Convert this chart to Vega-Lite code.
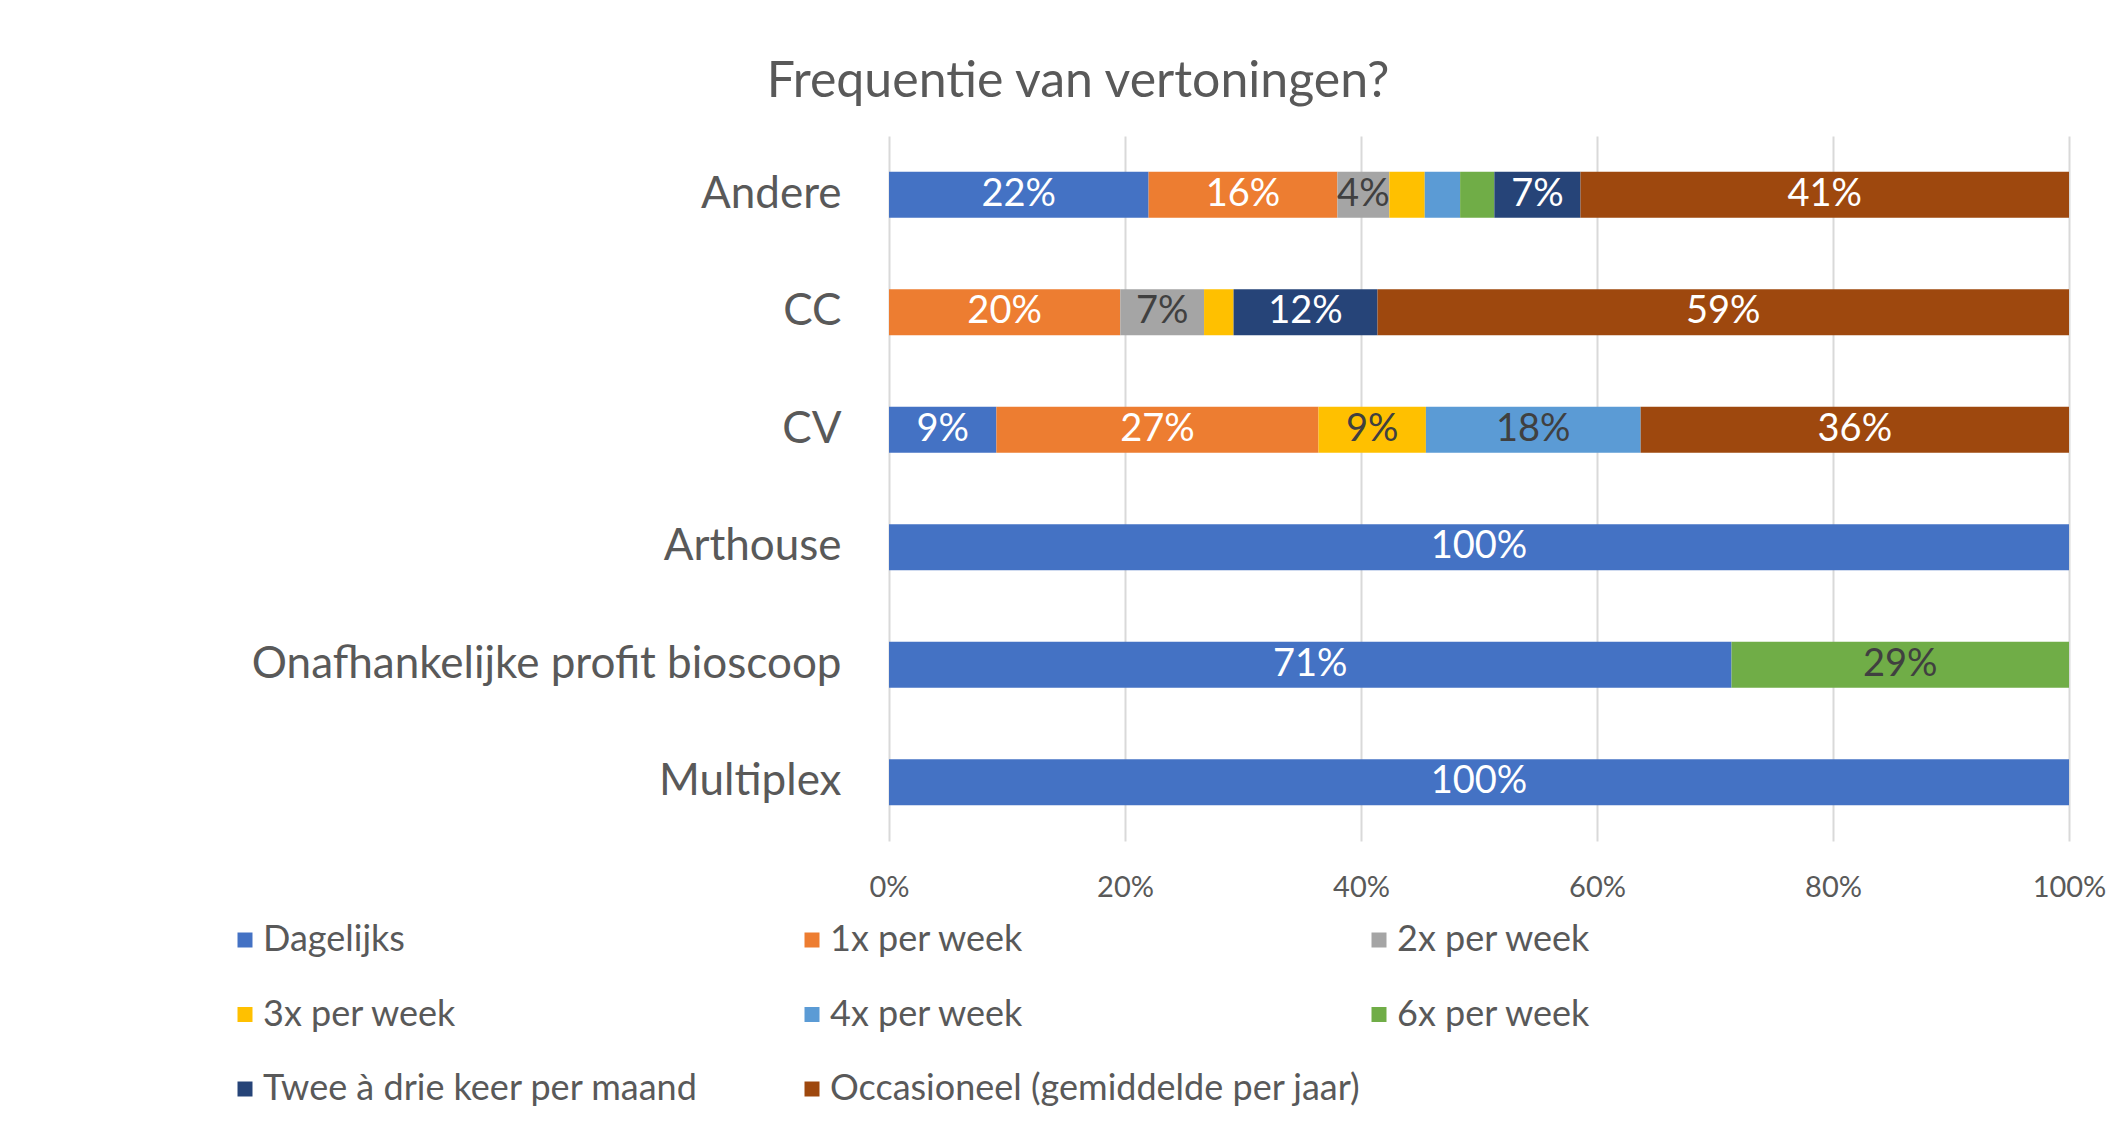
{
  "$schema": "https://vega.github.io/schema/vega-lite/v6.json",
  "width": 1180,
  "height": 705,
  "autosize": {"type": "none"},
  "padding": {"left": 889, "top": 136, "right": 57, "bottom": 303},
  "background": "white",
  "title": {
    "text": "Frequentie van vertoningen?",
    "anchor": "middle",
    "frame": "group",
    "dx": -401,
    "offset": -21,
    "baseline": "bottom",
    "font": "Lato",
    "fontSize": 50,
    "fontWeight": "normal",
    "color": "#595959"
  },
  "data": {
    "values": [
      {"cat": "Andere", "freq": "Dagelijks", "k": 1, "value": 0.22},
      {"cat": "Andere", "freq": "1x per week", "k": 2, "value": 0.16},
      {"cat": "Andere", "freq": "2x per week", "k": 3, "value": 0.044},
      {"cat": "Andere", "freq": "3x per week", "k": 4, "value": 0.03},
      {"cat": "Andere", "freq": "4x per week", "k": 5, "value": 0.03},
      {"cat": "Andere", "freq": "6x per week", "k": 6, "value": 0.029},
      {"cat": "Andere", "freq": "Twee à drie keer per maand", "k": 7, "value": 0.073},
      {"cat": "Andere", "freq": "Occasioneel (gemiddelde per jaar)", "k": 8, "value": 0.414},
      {"cat": "CC", "freq": "1x per week", "k": 2, "value": 0.196},
      {"cat": "CC", "freq": "2x per week", "k": 3, "value": 0.071},
      {"cat": "CC", "freq": "3x per week", "k": 4, "value": 0.025},
      {"cat": "CC", "freq": "Twee à drie keer per maand", "k": 7, "value": 0.122},
      {"cat": "CC", "freq": "Occasioneel (gemiddelde per jaar)", "k": 8, "value": 0.586},
      {"cat": "CV", "freq": "Dagelijks", "k": 1, "value": 0.091},
      {"cat": "CV", "freq": "1x per week", "k": 2, "value": 0.273},
      {"cat": "CV", "freq": "3x per week", "k": 4, "value": 0.091},
      {"cat": "CV", "freq": "4x per week", "k": 5, "value": 0.182},
      {"cat": "CV", "freq": "Occasioneel (gemiddelde per jaar)", "k": 8, "value": 0.363},
      {"cat": "Arthouse", "freq": "Dagelijks", "k": 1, "value": 1.0},
      {"cat": "Onafhankelijke profit bioscoop", "freq": "Dagelijks", "k": 1, "value": 0.714},
      {"cat": "Onafhankelijke profit bioscoop", "freq": "6x per week", "k": 6, "value": 0.286},
      {"cat": "Multiplex", "freq": "Dagelijks", "k": 1, "value": 1.0}
    ]
  },
  "transform": [
    {"stack": "value", "groupby": ["cat"], "sort": [{"field": "k", "order": "ascending"}], "as": ["v0", "v1"]},
    {"calculate": "(datum.v0 + datum.v1) / 2", "as": "mid"}
  ],
  "encoding": {
    "y": {
      "field": "cat",
      "type": "nominal",
      "sort": ["Andere", "CC", "CV", "Arthouse", "Onafhankelijke profit bioscoop", "Multiplex"],
      "scale": {"paddingInner": 0.61, "paddingOuter": 0.305},
      "axis": {
        "title": null,
        "domain": false,
        "ticks": false,
        "grid": false,
        "labelFont": "Lato",
        "labelFontSize": 44,
        "labelColor": "#595959",
        "labelPadding": 48,
        "labelLimit": 1000
      }
    }
  },
  "layer": [
    {
      "mark": {"type": "bar"},
      "encoding": {
        "x": {
          "field": "v0",
          "type": "quantitative",
          "scale": {"domain": [0, 1], "nice": false},
          "axis": {
            "title": null,
            "values": [0, 0.2, 0.4, 0.6, 0.8, 1],
            "format": ".0%",
            "grid": true,
            "gridColor": "#D9D9D9",
            "gridWidth": 2,
            "domain": false,
            "ticks": false,
            "labelFlush": false,
            "labelFont": "Lato",
            "labelFontSize": 29,
            "labelColor": "#595959",
            "labelPadding": 32
          }
        },
        "x2": {"field": "v1"},
        "color": {
          "field": "freq",
          "type": "nominal",
          "scale": {
            "domain": ["Dagelijks", "1x per week", "2x per week", "3x per week", "4x per week", "6x per week", "Twee à drie keer per maand", "Occasioneel (gemiddelde per jaar)"],
            "range": ["#4472C4", "#ED7D31", "#A5A5A5", "#FFC000", "#5B9BD5", "#70AD47", "#264478", "#9E480E"]
          },
          "legend": {
            "title": null,
            "values": ["Dagelijks", "3x per week", "Twee à drie keer per maand", "1x per week", "4x per week", "Occasioneel (gemiddelde per jaar)", "2x per week", "6x per week"],
            "orient": "none",
            "legendX": -662,
            "legendY": 786,
            "columns": 3,
            "gridAlign": "all",
            "columnPadding": 0,
            "rowPadding": 38.5,
            "padding": 0,
            "symbolType": "square",
            "symbolSize": 225,
            "symbolStrokeWidth": 0,
            "labelFont": "Lato",
            "labelFontSize": 36,
            "labelColor": "#595959",
            "labelOffset": 0,
            "labelLimit": 1000
          }
        }
      }
    },
    {
      "transform": [{"filter": "datum.value >= 0.04"}],
      "mark": {"type": "text", "font": "Lato", "fontSize": 38, "baseline": "middle", "align": "center"},
      "encoding": {
        "x": {"field": "mid", "type": "quantitative"},
        "text": {"field": "value", "type": "quantitative", "format": ".0%"},
        "color": {
          "condition": {"test": "indexof(['2x per week','3x per week','4x per week','6x per week'], datum.freq) >= 0", "value": "#404040"},
          "value": "#FFFFFF"
        }
      }
    }
  ],
  "config": {"view": {"stroke": null}}
}
